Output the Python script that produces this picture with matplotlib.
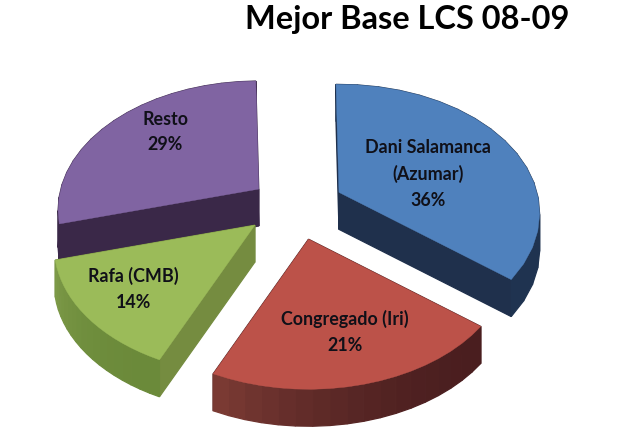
import numpy as np
import matplotlib
matplotlib.use('Agg')
import matplotlib.pyplot as plt
from matplotlib.colors import to_rgb
from matplotlib.patches import Polygon

title = 'Mejor Base LCS 08-09'
names = ['Dani Salamanca\n(Azumar)', 'Congregado (Iri)', 'Rafa (CMB)', 'Resto']
shares = [36, 21, 14, 29]

top_colors = ['#4F81BD', '#BC5249', '#9BBB59', '#8064A2']
cut_colors = ['#1F304C', '#4A1F20', '#758C40', '#3A2848']
rim_from = ['#1F3350', '#4A1E1F', '#6B8A3A', '#3A2848']
rim_to = ['#1F3350', '#7A3A33', '#7D9A48', '#3A2848']
label_xy = [(428, 174), (345, 332), (133, 289), (165, 132)]
draw_order = [3, 2, 0, 1]

# pie layout in pixels
cx, cy = 297, 212
ax_r, by_r = 198, 125.6
persp = 0.163
ex, ey_back, ey_front = 49, 40, 28
depth = 37
start = -1.0
nudge = [(-2, -1), (0, 1), (-5, -4), (1, 2)]

fig = plt.figure(figsize=(6.19, 4.39), dpi=100)
ax = fig.add_axes([0, 0, 1, 1])
ax.set_xlim(0, 619)
ax.set_ylim(439, 0)
ax.axis('off')


def project(apex, ang):
    x, y = np.sin(ang), np.cos(ang)
    s = 1 / (1 + persp * y)
    return apex[0] + ax_r * x * s, apex[1] - by_r * y * s


def mix(c1, c2, t):
    c1, c2 = np.array(to_rgb(c1)), np.array(to_rgb(c2))
    return tuple(c1 + (c2 - c1) * t)


def quad(p, q, color, z):
    pts = [p, q, (q[0], q[1] + depth), (p[0], p[1] + depth)]
    ax.add_patch(Polygon(pts, closed=True, fc=color, ec=color, lw=0.9, zorder=z))


edges = start + np.concatenate([[0], np.cumsum(shares)]) * 3.6

for z, i in enumerate(draw_order):
    a1, a2 = np.radians(edges[i]), np.radians(edges[i + 1])
    mid = (a1 + a2) / 2
    dy = np.cos(mid)
    apex = (cx + ex * np.sin(mid) + nudge[i][0],
            cy - (ey_back if dy > 0 else ey_front) * dy + nudge[i][1])
    angs = np.linspace(a1, a2, 19)
    rim = [project(apex, a) for a in angs]
    base = 10 * z

    # radial cut faces, then the rim in stripes
    quad(apex, rim[0], cut_colors[i], base)
    quad(apex, rim[-1], cut_colors[i], base)
    for k in range(len(rim) - 1):
        t = (k / (len(rim) - 2)) ** 2
        quad(rim[k], rim[k + 1], mix(rim_from[i], rim_to[i], t), base + 1)

    ax.add_patch(Polygon([apex] + rim, closed=True, fc=top_colors[i],
                         ec=top_colors[i], lw=0.3, zorder=base + 2))

for name, share, (x, y) in zip(names, shares, label_xy):
    ax.text(x, y, f'{name}\n{share}%', ha='center', va='center', family='Lato',
            fontsize=12.9, fontweight='bold', color='#101018', linespacing=1.62,
            zorder=100)

ax.text(407, 19, title, ha='center', va='center', family='Lato', fontsize=23.4,
        fontweight='bold', color='black')

fig.savefig('out.png', dpi=100)
